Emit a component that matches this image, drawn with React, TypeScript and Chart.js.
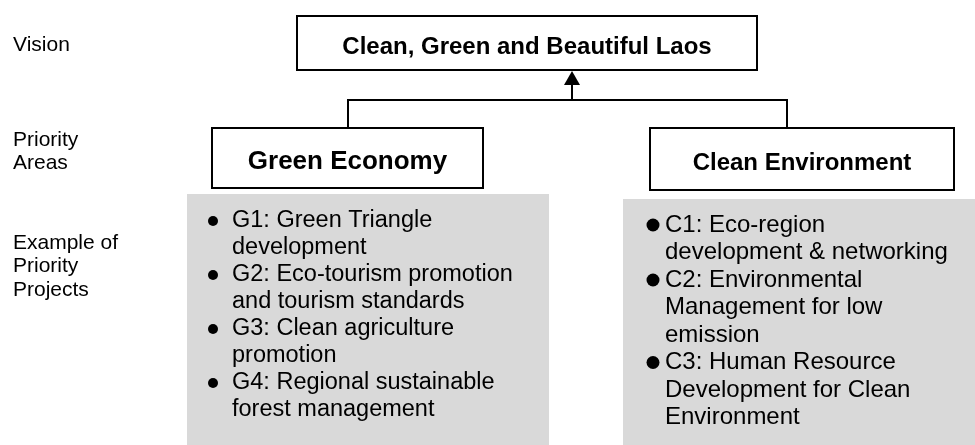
import React, { useEffect, useRef } from "react";
import { Chart, registerables } from "chart.js";

Chart.register(...registerables);

// ---- content ----
const rowLabels: string[][] = [["Vision"], ["Priority", "Areas"], ["Example of", "Priority", "Projects"]];
const visionTitle = "Clean, Green and Beautiful Laos";
const areaTitles = ["Green Economy", "Clean Environment"];
const greenProjects: string[][] = [
  ["G1: Green Triangle", "development"],
  ["G2: Eco-tourism promotion", "and tourism standards"],
  ["G3: Clean agriculture", "promotion"],
  ["G4: Regional sustainable", "forest management"],
];
const cleanProjects: string[][] = [
  ["C1: Eco-region", "development & networking"],
  ["C2: Environmental", "Management for low", "emission"],
  ["C3: Human Resource", "Development for Clean", "Environment"],
];
const projectLists = [greenProjects, cleanProjects];

// ---- layout (in scale units: x 0..975, y 0..445 top-down) ----
const W = 975;
const H = 445;
const FONT = "'Liberation Sans', Arial, Helvetica, sans-serif";
const L = {
  labelX: 13,
  labelY: [45, 140, 243],
  labelLH: 23.5,
  labelFont: 21,
  vision: { x0: 297, x1: 757, y0: 16, y1: 70, font: 24, dy: 4 },
  arrowX: 572,
  connectorY: 100,
  connectorX: [348, 787],
  arrowHead: 15,
  arrowHalf: 8,
  areas: [
    { x0: 212, x1: 483, y0: 128, y1: 188, font: 26, dy: 4 },
    { x0: 650, x1: 954, y0: 128, y1: 190, font: 24, dy: 4 },
  ],
  panels: [
    { x0: 187, x1: 549, y0: 194, y1: 445, bulletX: 213, bulletR: 5, textX: 232, firstY: 221, font: 23.5, lineH: 27 },
    { x0: 623, x1: 975, y0: 199, y1: 445, bulletX: 653, bulletR: 6.5, textX: 665, firstY: 225, font: 24, lineH: 27.5 },
  ],
  stroke: 2,
  gray: "#d9d9d9",
};

const diagramPlugin = {
  id: "diagram",
  afterDraw(chart: any) {
    const ctx: CanvasRenderingContext2D = chart.ctx;
    const xs = chart.scales.x;
    const ys = chart.scales.y;
    const px = (v: number) => xs.getPixelForValue(v);
    const py = (v: number) => ys.getPixelForValue(v);

    ctx.save();
    ctx.fillStyle = "#ffffff";
    ctx.fillRect(0, 0, chart.width, chart.height);

    // row labels
    ctx.fillStyle = "#000";
    ctx.textAlign = "left";
    ctx.textBaseline = "middle";
    ctx.font = `${L.labelFont}px ${FONT}`;
    rowLabels.forEach((lines, i) => {
      lines.forEach((t, j) => ctx.fillText(t, px(L.labelX), py(L.labelY[i] + j * L.labelLH)));
    });

    // gray panels
    ctx.fillStyle = L.gray;
    L.panels.forEach((p) => {
      ctx.fillRect(px(p.x0), py(p.y0), px(p.x1) - px(p.x0), py(p.y1) - py(p.y0));
    });

    // connector lines
    ctx.strokeStyle = "#000";
    ctx.lineWidth = L.stroke;
    ctx.beginPath();
    ctx.moveTo(px(L.connectorX[0]), py(L.areas[0].y0));
    ctx.lineTo(px(L.connectorX[0]), py(L.connectorY));
    ctx.lineTo(px(L.connectorX[1]), py(L.connectorY));
    ctx.lineTo(px(L.connectorX[1]), py(L.areas[1].y0));
    ctx.moveTo(px(L.arrowX), py(L.connectorY));
    ctx.lineTo(px(L.arrowX), py(L.vision.y1 + L.arrowHead));
    ctx.stroke();
    // arrow head
    ctx.fillStyle = "#000";
    ctx.beginPath();
    ctx.moveTo(px(L.arrowX), py(L.vision.y1 + 1));
    ctx.lineTo(px(L.arrowX - L.arrowHalf), py(L.vision.y1 + L.arrowHead));
    ctx.lineTo(px(L.arrowX + L.arrowHalf), py(L.vision.y1 + L.arrowHead));
    ctx.closePath();
    ctx.fill();

    // boxes
    const box = (b: any, text: string) => {
      ctx.fillStyle = "#fff";
      ctx.fillRect(px(b.x0), py(b.y0), px(b.x1) - px(b.x0), py(b.y1) - py(b.y0));
      ctx.strokeStyle = "#000";
      ctx.lineWidth = L.stroke;
      ctx.strokeRect(px(b.x0), py(b.y0), px(b.x1) - px(b.x0), py(b.y1) - py(b.y0));
      ctx.fillStyle = "#000";
      ctx.font = `bold ${b.font}px ${FONT}`;
      ctx.textAlign = "center";
      ctx.textBaseline = "middle";
      ctx.fillText(text, px((b.x0 + b.x1) / 2), py((b.y0 + b.y1) / 2 + b.dy));
    };
    box(L.vision, visionTitle);
    L.areas.forEach((a, i) => box(a, areaTitles[i]));

    // project lists
    ctx.textAlign = "left";
    ctx.textBaseline = "middle";
    projectLists.forEach((items, k) => {
      const p = L.panels[k];
      ctx.font = `${p.font}px ${FONT}`;
      let line = 0;
      items.forEach((lines) => {
        const y0 = p.firstY + line * p.lineH;
        ctx.fillStyle = "#000";
        ctx.beginPath();
        ctx.arc(px(p.bulletX), py(y0), p.bulletR, 0, Math.PI * 2);
        ctx.fill();
        lines.forEach((t) => {
          ctx.fillText(t, px(p.textX), py(p.firstY + line * p.lineH));
          line++;
        });
      });
    });
    ctx.restore();
  },
};

export default function App() {
  const ref = useRef<HTMLCanvasElement | null>(null);
  useEffect(() => {
    if (!ref.current) return;
    const chart = new Chart(ref.current, {
      type: "scatter",
      data: { datasets: [{ data: [], pointRadius: 0 }] },
      options: {
        responsive: false,
        animation: false,
        layout: { padding: 0 },
        plugins: { legend: { display: false }, tooltip: { enabled: false }, title: { display: false } },
        scales: {
          x: { type: "linear", min: 0, max: W, display: false },
          y: { type: "linear", min: 0, max: H, reverse: true, display: false },
        },
      },
      plugins: [diagramPlugin],
    });
    return () => chart.destroy();
  }, []);
  return (
    <div style={{ position: "fixed", left: 0, top: 0, width: W, height: H, background: "#fff" }}>
      <canvas ref={ref} width={W} height={H} style={{ display: "block", width: W, height: H }} />
    </div>
  );
}
